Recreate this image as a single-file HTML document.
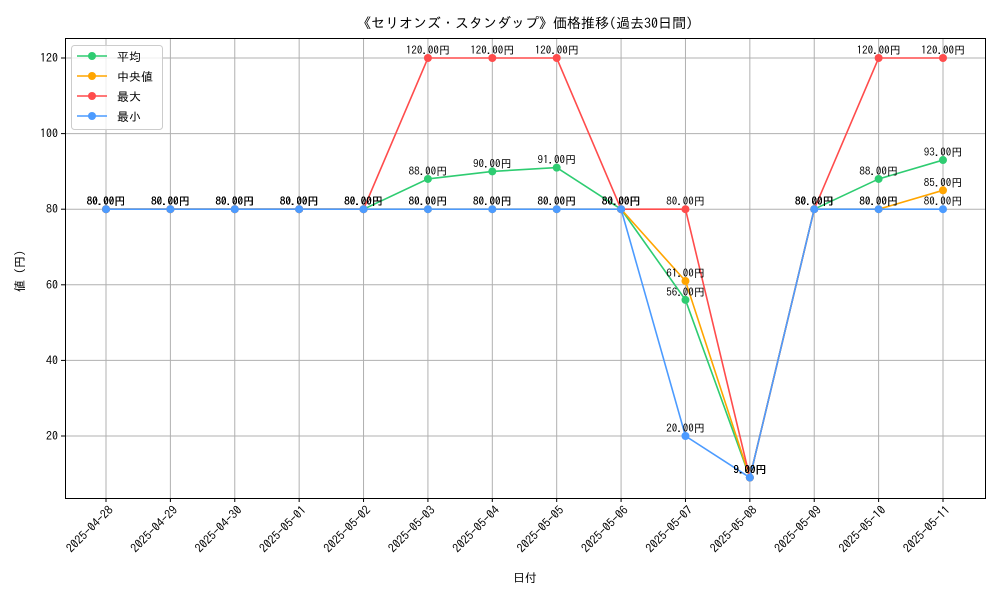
<!DOCTYPE html>
<html><head><meta charset="utf-8">
<style>
body{margin:0;background:#fff;}
svg text{font-family:"IPAGothic","Noto Sans CJK JP","Liberation Sans",sans-serif;}
</style></head>
<body>
<svg id="chart" width="1000" height="600" xmlns="http://www.w3.org/2000/svg">
<rect width="1000" height="600" fill="#fff"/>
<text x="525" y="28" font-size="14" text-anchor="middle">《セリオンズ・スタンダップ》価格推移(過去30日間)</text>
<g id="grid"></g>
<g id="axes"></g>
<g id="series"></g>
<g id="labels"></g>
<rect x="65.5" y="38.5" width="920" height="460" fill="none" stroke="#000" stroke-width="1"/>
<text x="525" y="582" font-size="12" text-anchor="middle">日付</text>
<text x="24" y="268" font-size="12" text-anchor="middle" transform="rotate(-90 24 268)">値（円）</text>
<g>
<rect x="71.5" y="45.5" width="91" height="84" rx="3" fill="#fff" fill-opacity="0.8" stroke="#ccc"/>
<g id="legend-items"></g>
</g>
</svg>
<script>
const categories=["2025-04-28","2025-04-29","2025-04-30","2025-05-01","2025-05-02","2025-05-03","2025-05-04","2025-05-05","2025-05-06","2025-05-07","2025-05-08","2025-05-09","2025-05-10","2025-05-11"];
const avgValues=[80,80,80,80,80,88,90,91,80,56,9,80,88,93];
const medianValues=[80,80,80,80,80,80,80,80,80,61,9,80,80,85];
const maxValues=[80,80,80,80,80,120,120,120,80,80,9,80,120,120];
const minValues=[80,80,80,80,80,80,80,80,80,20,9,80,80,80];
const yTicks=[20,40,60,80,100,120];
const seriesNames=["平均","中央値","最大","最小"];

const NS="http://www.w3.org/2000/svg";
const X0=106,X1=943,PL=65,PR=985,PT=38,PB=498;
function xPos(i){return X0+(X1-X0)*i/(categories.length-1);}
function yPos(v){return 436-(v-20)*3.78;}
function mk(tag,attrs,parent){const e=document.createElementNS(NS,tag);for(const k in attrs)e.setAttribute(k,attrs[k]);parent.appendChild(e);return e;}
const grid=document.getElementById('grid'),axes=document.getElementById('axes');
categories.forEach((c,i)=>{
  const x=xPos(i);
  const gl=mk('line',{x1:x,x2:x,y1:PT,y2:PB,stroke:'#b0b0b0','stroke-width':1},grid);
  
  
  mk('line',{x1:x,x2:x,y1:PB,y2:PB+4,stroke:'#000'},axes);
  const t=mk('text',{x:x+5,y:PB+14,'font-size':12,'text-anchor':'end',transform:`rotate(-45 ${x+5} ${PB+10})`},axes);
  
  
  t.textContent=c;
});
yTicks.forEach(v=>{
  const y=yPos(v);
  const gl=mk('line',{x1:PL,x2:PR,y1:y,y2:y,stroke:'#b0b0b0','stroke-width':1},grid);
  
  
  mk('line',{x1:PL-4,x2:PL,y1:y,y2:y,stroke:'#000'},axes);
  const t=mk('text',{x:PL-7,y:y+4,'font-size':12,'text-anchor':'end'},axes);
  
  
  t.textContent=v;
});
const series=[[avgValues,'#2ecc71','avg'],[medianValues,'#ffa500','median'],[maxValues,'#ff4c4c','max'],[minValues,'#4c9bff','min']];
const sg=document.getElementById('series'),lg=document.getElementById('labels'),li=document.getElementById('legend-items');
series.forEach(([vals,col,key],si)=>{
  const pts=vals.map((v,i)=>xPos(i)+','+yPos(v)).join(' ');
  const pl=mk('polyline',{points:pts,fill:'none',stroke:col,'stroke-width':1.6},sg);
  
  
  vals.forEach((v,i)=>{
    const c=mk('circle',{cx:xPos(i),cy:yPos(v),r:4,fill:col},sg);
    
    
    const t=mk('text',{x:xPos(i),y:yPos(v)-4,'font-size':11,'text-anchor':'middle'},lg);
    
    
    t.textContent=v.toFixed(2)+'円';
  });
  const ly=56+si*20;
  mk('line',{x1:77,x2:107,y1:ly,y2:ly,stroke:col,'stroke-width':1.6},li);
  const lc=mk('circle',{cx:92,cy:ly,r:4,fill:col},li);
  
  
  const lt=mk('text',{x:117,y:ly+5,'font-size':12},li);
  
  
  lt.textContent=seriesNames[si];
});
</script>
</body></html>
